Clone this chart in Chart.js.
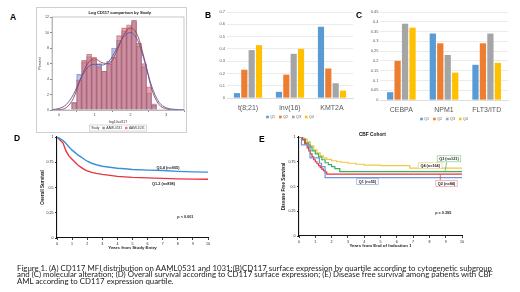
<!DOCTYPE html>
<html>
<head>
<meta charset="utf-8">
<script src="https://cdn.jsdelivr.net/npm/chart.js@4.4.1/dist/chart.umd.min.js"></script>
<style>
  body { margin: 0; background: #fff; width: 520px; height: 292px; overflow: hidden; position: relative; font-family: "Liberation Sans", Arial, sans-serif; }
  canvas { position: absolute; }
  .frame { position: absolute; left: 36px; top: 7px; width: 151px; height: 126px; border: 1px solid #cfcfcf; box-sizing: border-box; }
  .tag { position: absolute; font-weight: bold; font-size: 8.5px; line-height: 1; color: #000; }
  .cap { position: absolute; left: 17px; font-family: Lato, "Open Sans", sans-serif; font-size: 6.9px; line-height: 1; color: #222; white-space: nowrap; transform-origin: 0 0; }
</style>
</head>
<body>
<div class="frame"><canvas id="histA" width="149" height="124" style="left:0;top:0"></canvas></div>
<canvas id="barB" width="160" height="125" style="left:200px;top:0"></canvas>
<canvas id="barC" width="165" height="126" style="left:355px;top:0"></canvas>
<canvas id="kmD" width="232" height="124" style="left:30px;top:128px"></canvas>
<canvas id="kmE" width="252" height="124" style="left:268px;top:128px"></canvas>

<div class="tag" style="left:10px;top:13px">A</div>
<div class="tag" style="left:205px;top:11px">B</div>
<div class="tag" style="left:356px;top:11px">C</div>
<div class="tag" style="left:14px;top:134px">D</div>
<div class="tag" style="left:259px;top:135px">E</div>

<div class="cap" id="cap1" style="top:264.5px">Figure 1. (A) CD117 MFI distribution on AAML0531 and 1031;(B)CD117 surface expression by quartile according to cytogenetic subgroup</div>
<div class="cap" id="cap2" style="top:271.2px">and (C) molecular alteration; (D) Overall survival according to CD117 surface expression; (E) Disease free survival among patients with CBF</div>
<div class="cap" id="cap3" style="top:277.9px">AML according to CD117 expression quartile.</div>

<script>
// A: log10 CD117 histogram (percent per bin) and density curves
const binCenters = [0.42, 0.56, 0.70, 0.84, 0.98, 1.12, 1.26, 1.40, 1.54, 1.68, 1.82, 1.96, 2.10, 2.24, 2.38, 2.52, 2.66];
const pct0531 = [1.0, 4.6, 6.2, 6.9, 6.4, 6.0, 5.0, 6.3, 8.0, 9.0, 10.2, 10.6, 11.4, 8.2, 5.6, 2.2, 0.8];
const pct1031 = [0.9, 3.9, 6.4, 7.2, 6.8, 5.6, 5.0, 5.9, 6.8, 9.6, 10.6, 11.0, 11.6, 8.6, 6.0, 3.0, 0.6];
const densX = [-0.2, 0, 0.2, 0.4, 0.6, 0.8, 1.0, 1.2, 1.4, 1.6, 1.8, 2.0, 2.2, 2.4, 2.6, 2.8, 3.0, 3.2, 3.5];
const dens0531 = [0.05, 0.2, 0.7, 2.0, 4.0, 5.5, 5.9, 5.8, 6.3, 7.8, 9.4, 10.0, 9.0, 6.2, 3.0, 1.0, 0.3, 0.1, 0];
const dens1031 = [0, 0.05, 0.3, 1.5, 4.0, 6.0, 6.6, 6.1, 6.0, 7.4, 9.6, 10.6, 9.6, 6.4, 2.6, 0.7, 0.15, 0.03, 0];

// B / C: share of patients by CD117 quartile
const quartiles = ['Q1', 'Q2', 'Q3', 'Q4'];
const cytoGroups = ['t(8;21)', 'inv(16)', 'KMT2A'];
const cytoQ1 = [0.04, 0.05, 0.58];
const cytoQ2 = [0.23, 0.19, 0.24];
const cytoQ3 = [0.39, 0.36, 0.12];
const cytoQ4 = [0.43, 0.40, 0.06];
const molGroups = ['CEBPA', 'NPM1', 'FLT3/ITD'];
const molQ1 = [0.04, 0.34, 0.18];
const molQ2 = [0.20, 0.29, 0.29];
const molQ3 = [0.39, 0.23, 0.34];
const molQ4 = [0.37, 0.14, 0.19];

// D: overall survival
const osYears = [0, 0.2, 0.4, 0.6, 0.8, 1.0, 1.2, 1.4, 1.6, 1.8, 2.0, 2.3, 2.6, 3.0, 3.5, 4.0, 4.5, 5.0, 6.0, 7.0, 8.0, 9.0, 10];
const osQ34 = [1, 0.985, 0.965, 0.935, 0.90, 0.87, 0.845, 0.82, 0.80, 0.78, 0.76, 0.74, 0.725, 0.71, 0.70, 0.69, 0.685, 0.678, 0.672, 0.668, 0.66, 0.655, 0.652];
const osQ12 = [1, 0.97, 0.94, 0.86, 0.81, 0.78, 0.75, 0.72, 0.70, 0.68, 0.665, 0.65, 0.64, 0.63, 0.62, 0.61, 0.605, 0.60, 0.595, 0.59, 0.585, 0.583, 0.582];

// E: disease free survival, CBF cohort
const dfsQ1Years = [0, 0.15, 0.68, 1.25, 1.38, 1.6, 10];
const dfsQ1 = [1, 0.92, 0.79, 0.735, 0.70, 0.59, 0.59];
const dfsQ2Years = [0, 0.2, 0.35, 0.5, 0.6, 0.7, 0.8, 0.9, 1.0, 1.1, 1.2, 1.3, 1.4, 1.5, 1.6, 1.7, 10];
const dfsQ2 = [1, 0.97, 0.93, 0.89, 0.86, 0.83, 0.80, 0.77, 0.75, 0.73, 0.71, 0.69, 0.675, 0.66, 0.645, 0.625, 0.625];
const dfsQ3Years = [0, 0.2, 0.4, 0.6, 0.8, 1.0, 1.2, 1.4, 1.6, 1.8, 2.0, 2.2, 2.5, 10];
const dfsQ3 = [1, 0.98, 0.94, 0.90, 0.86, 0.83, 0.80, 0.77, 0.74, 0.72, 0.70, 0.68, 0.65, 0.65];
const dfsQ4Years = [0, 0.3, 0.5, 0.7, 0.9, 1.1, 1.3, 1.5, 1.7, 2.0, 2.3, 2.6, 3.0, 3.5, 4.0, 5.0, 6.8, 10];
const dfsQ4 = [1, 0.98, 0.95, 0.91, 0.87, 0.84, 0.81, 0.79, 0.775, 0.76, 0.75, 0.745, 0.735, 0.725, 0.715, 0.71, 0.685, 0.685];

const xy = (xs, ys) => xs.map((x, i) => ({ x, y: ys[i] }));
const qColors = ['#5b9bd5', '#ed7d31', '#a5a5a5', '#ffc000'];
const SANS = '"Liberation Sans", Arial, sans-serif';
const trim = v => String(+(+v).toFixed(2));

// text notes, connector lines and an optional plot frame, placed in data units
const notes = {
  id: 'notes',
  afterDatasetsDraw(chart, args, o) {
    const { ctx, chartArea: a, scales: { x, y } } = chart;
    ctx.save();
    if (o.frame) {
      ctx.strokeStyle = o.frame; ctx.lineWidth = 0.6;
      ctx.strokeRect(a.left, a.top, a.right - a.left, a.bottom - a.top);
    }
    (o.links || []).forEach(l => {
      ctx.strokeStyle = l.color; ctx.lineWidth = 0.7;
      ctx.beginPath();
      ctx.moveTo(x.getPixelForValue(l.x1), y.getPixelForValue(l.y1));
      ctx.lineTo(x.getPixelForValue(l.x2), y.getPixelForValue(l.y2));
      ctx.stroke();
    });
    (o.items || []).forEach(n => {
      const px = x.getPixelForValue(n.x), py = y.getPixelForValue(n.y);
      ctx.font = n.font || 'bold 3.8px ' + SANS;
      ctx.textAlign = 'center'; ctx.textBaseline = 'middle';
      if (n.box) {
        const w = ctx.measureText(n.text).width + 4;
        ctx.fillStyle = '#fff';
        ctx.fillRect(px - w / 2, py - 3, w, 6);
        ctx.strokeStyle = n.box; ctx.lineWidth = 0.7;
        ctx.strokeRect(px - w / 2, py - 3, w, 6);
      }
      ctx.fillStyle = n.color || '#222';
      ctx.fillText(n.text, px, py + 0.3);
    });
    ctx.restore();
  }
};

// one-row legend drawn under the plot
const keyRow = {
  id: 'keyRow',
  afterDraw(chart, args, o) {
    if (!o.dy) return;
    const { ctx, chartArea: a } = chart;
    ctx.save();
    ctx.font = o.font; ctx.textBaseline = 'middle'; ctx.textAlign = 'left';
    const sets = chart.data.datasets.filter(d => d.type !== 'line');
    const items = sets.map(d => ({ d, w: o.swatch + 1.5 + ctx.measureText(d.label).width }));
    const lead = o.lead ? ctx.measureText(o.lead).width + o.gap : 0;
    const total = lead + items.reduce((s, i) => s + i.w, 0) + o.gap * (items.length - 1);
    let x = (a.left + a.right) / 2 - total / 2;
    const y = a.bottom + o.dy;
    if (o.frame) {
      ctx.strokeStyle = o.frame; ctx.lineWidth = 0.5;
      ctx.strokeRect(x - 2, y - 3, total + 4, 6);
    }
    ctx.fillStyle = o.color;
    if (o.lead) { ctx.fillText(o.lead, x, y); x += lead; }
    items.forEach(it => {
      ctx.fillStyle = it.d.keyColor || it.d.backgroundColor;
      ctx.fillRect(x, y - o.swatch / 2, o.swatch, o.swatch);
      ctx.fillStyle = o.color;
      ctx.fillText(it.d.label, x + o.swatch + 1.5, y);
      x += it.w + o.gap;
    });
    ctx.restore();
  }
};

Chart.register(notes, keyRow);
Chart.defaults.font.family = SANS;
Chart.defaults.animation = false;
Chart.defaults.responsive = false;
Chart.defaults.devicePixelRatio = 1;
Chart.defaults.plugins.legend.display = false;
Chart.defaults.plugins.tooltip.enabled = false;

// ---------- A ----------
new Chart(document.getElementById('histA'), {
  type: 'bar',
  data: {
    datasets: [
      { label: 'AAML0531', data: xy(binCenters, pct0531), order: 3, grouped: false,
        backgroundColor: 'rgba(125,140,200,0.5)', borderColor: 'rgba(95,110,170,0.6)', borderWidth: 0.5,
        keyColor: 'rgba(110,130,200,0.9)', barPercentage: 1, categoryPercentage: 1 },
      { label: 'AAML1031', data: xy(binCenters, pct1031), order: 2, grouped: false,
        backgroundColor: 'rgba(210,105,115,0.58)', borderColor: 'rgba(175,80,90,0.6)', borderWidth: 0.5,
        keyColor: 'rgba(215,105,115,0.9)', barPercentage: 1, categoryPercentage: 1 },
      { type: 'line', label: 'dens0531', data: xy(densX, dens0531), order: 1, borderColor: '#4a5ab0',
        borderWidth: 0.9, pointRadius: 0, cubicInterpolationMode: 'monotone' },
      { type: 'line', label: 'dens1031', data: xy(densX, dens1031), order: 1, borderColor: '#b03a3a',
        borderWidth: 0.9, pointRadius: 0, cubicInterpolationMode: 'monotone' }
    ]
  },
  options: {
    layout: { padding: { top: 9, right: 2, bottom: 8, left: 0 } },
    scales: {
      x: { type: 'linear', min: -0.2, max: 3.5, offset: false,
        ticks: { stepSize: 1, includeBounds: false, font: { size: 3.6 }, color: '#444', padding: 1 },
        grid: { display: true, drawOnChartArea: false, tickLength: 2, tickColor: '#888' },
        border: { color: '#999', width: 0.6 },
        title: { display: true, text: 'log10cd117', font: { size: 3.6 }, color: '#333', padding: { top: 0, bottom: 0 } },
        afterFit: s => { s.height = 14; } },
      y: { min: 0, max: 12,
        ticks: { stepSize: 2, font: { size: 3.6 }, color: '#444', padding: 1 },
        grid: { display: true, drawOnChartArea: false, tickLength: 2, tickColor: '#888' },
        border: { color: '#999', width: 0.6 },
        title: { display: true, text: 'Percent', font: { size: 3.6 }, color: '#333', padding: { top: 1, bottom: 0 } },
        afterFit: s => { s.width = 15; } }
    },
    plugins: {
      notes: { frame: '#a0a0a0',
        items: [{ text: 'Log CD117 comparison by Study', x: 1.7, y: 12.55, font: 'bold 4px ' + SANS, color: '#111' }] },
      keyRow: { dy: 18, font: '3.2px ' + SANS, color: '#333', swatch: 2.4, gap: 3, lead: 'Study', frame: '#b0b0b0' }
    }
  }
});

// ---------- B and C ----------
function quartileBars(id, groups, series, yMax, step, area) {
  return new Chart(document.getElementById(id), {
    type: 'bar',
    data: {
      labels: groups,
      datasets: series.map((vals, i) => ({
        label: quartiles[i], data: vals, backgroundColor: qColors[i],
        categoryPercentage: 0.7, barPercentage: 0.84
      }))
    },
    options: {
      layout: { padding: area.pad },
      scales: {
        x: { grid: { display: false, drawTicks: false }, border: { color: '#d9d9d9', width: 0.8 },
          ticks: { font: { size: 7 }, color: '#595959', padding: 6 },
          afterFit: s => { s.height = 16; } },
        y: { min: 0, max: yMax,
          ticks: { stepSize: step, font: { size: 4 }, color: '#595959', padding: area.tp, callback: trim },
          grid: { color: '#e3e3e3', lineWidth: 0.7, drawTicks: false }, border: { display: false },
          afterFit: s => { s.width = area.yw; } }
      },
      plugins: {
        keyRow: { dy: 19, font: '3.6px ' + SANS, color: '#595959', swatch: 2.6, gap: 4 }
      }
    }
  });
}
quartileBars('barB', cytoGroups, [cytoQ1, cytoQ2, cytoQ3, cytoQ4], 0.7, 0.1,
  { pad: { top: 12, right: 7, bottom: 11, left: 0 }, yw: 27, tp: 2 });
quartileBars('barC', molGroups, [molQ1, molQ2, molQ3, molQ4], 0.45, 0.05,
  { pad: { top: 12, right: 12, bottom: 10, left: 0 }, yw: 25, tp: 1.5 });

// ---------- D and E ----------
function kmAxes(xTitle, yTitle, yw, titleOff) {
  const tick = { font: { size: 3.6 }, color: '#222', padding: 1.5 };
  const grid = { display: true, drawOnChartArea: false, tickLength: 2, tickColor: '#000', tickWidth: 0.8 };
  return {
    x: { type: 'linear', min: 0, max: 10, ticks: { ...tick, stepSize: 1 }, grid,
      border: { color: '#111', width: 1.1 },
      title: { display: true, text: xTitle, font: { size: 4.4, weight: 'bold' }, color: '#222', padding: { top: 0, bottom: 2 } },
      afterFit: s => { s.height = 14; } },
    y: { min: 0, max: 1, ticks: { ...tick, stepSize: 0.25, callback: trim }, grid,
      border: { color: '#111', width: 1.1 },
      title: { display: true, text: yTitle, font: { size: 4.6, weight: 'bold' }, color: '#222', padding: { top: titleOff, bottom: 0 } },
      afterFit: s => { s.width = yw; } }
  };
}

new Chart(document.getElementById('kmD'), {
  type: 'line',
  data: {
    datasets: [
      { label: 'Q3-4', data: xy(osYears, osQ34), borderColor: '#3b8fd8', borderWidth: 1.4, pointRadius: 0 },
      { label: 'Q1-2', data: xy(osYears, osQ12), borderColor: '#e8343a', borderWidth: 1.4, pointRadius: 0 }
    ]
  },
  options: {
    layout: { padding: { top: 9, right: 54, bottom: 0, left: 0 } },
    scales: kmAxes('Years from Study Entry', 'Overall Survival', 27, 10),
    plugins: {
      notes: { items: [
        { text: 'Q3-4 (n=905)', x: 7.35, y: 0.70 },
        { text: 'Q1-2 (n=898)', x: 7.05, y: 0.54 },
        { text: 'p < 0.001', x: 8.5, y: 0.21 }
      ] }
    }
  }
});

new Chart(document.getElementById('kmE'), {
  type: 'line',
  data: {
    datasets: [
      { label: 'Q1', data: xy(dfsQ1Years, dfsQ1), borderColor: '#7196d2', borderWidth: 1.2, pointRadius: 0, stepped: true },
      { label: 'Q2', data: xy(dfsQ2Years, dfsQ2), borderColor: '#e8343a', borderWidth: 1.2, pointRadius: 0, stepped: true },
      { label: 'Q3', data: xy(dfsQ3Years, dfsQ3), borderColor: '#35b35c', borderWidth: 1.2, pointRadius: 0, stepped: true },
      { label: 'Q4', data: xy(dfsQ4Years, dfsQ4), borderColor: '#f2c744', borderWidth: 1.2, pointRadius: 0, stepped: true }
    ]
  },
  options: {
    layout: { padding: { top: 9, right: 58, bottom: 2, left: 0 } },
    scales: kmAxes('Years from End of Induction 1', 'Disease Free Survival', 31, 13),
    plugins: {
      notes: {
        links: [
          { x1: 9.06, y1: 0.745, x2: 8.96, y2: 0.655, color: '#35b35c' },
          { x1: 8.67, y1: 0.625, x2: 8.67, y2: 0.56, color: '#e8343a' }
        ],
        items: [
          { text: 'CBF Cohort', x: 4.5, y: 1.025, font: 'bold 4.8px ' + SANS, color: '#111' },
          { text: 'Q3 (n=121)', x: 9.2, y: 0.78, box: '#7fcf98' },
          { text: 'Q4 (n=164)', x: 8.05, y: 0.71, box: '#f2d27a' },
          { text: 'Q1 (n=55)', x: 4.2, y: 0.55, box: '#8fa9d8' },
          { text: 'Q2 (n=84)', x: 9.05, y: 0.53, box: '#ef9a9a' },
          { text: 'p = 0.395', x: 8.85, y: 0.24 }
        ]
      }
    }
  }
});

// caption lines stretched to the printed width
const cap1 = document.getElementById('cap1');
const k = 475 / cap1.getBoundingClientRect().width;
cap1.style.transform = 'scaleX(' + k + ')';
const cap2 = document.getElementById('cap2');
cap2.style.transform = 'scaleX(' + (476 / cap2.getBoundingClientRect().width) + ')';
document.getElementById('cap3').style.transform = 'scaleX(' + k + ')';
</script>
</body>
</html>
